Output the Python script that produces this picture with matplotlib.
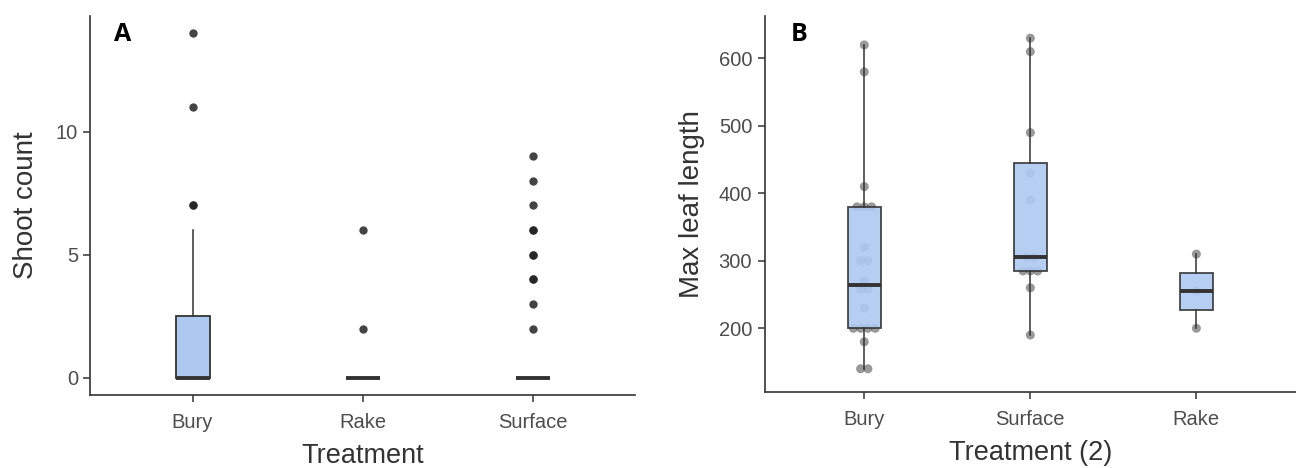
import numpy as np
import matplotlib
matplotlib.use('Agg')
import matplotlib.pyplot as plt

plt.rcParams['font.family'] = ['Liberation Sans', 'DejaVu Sans']

# panel A: shoot counts per treatment
cats_a = ['Bury', 'Rake', 'Surface']
bury_a = [0] * 13 + [1, 1, 2, 2, 2, 4, 6, 7, 7, 11, 14]
rake_a = [0] * 20 + [2, 6]
surface_a = [0] * 36 + [2, 3, 4, 4, 5, 5, 6, 6, 7, 8, 9]

# panel B: max leaf length per treatment
cats_b = ['Bury', 'Surface', 'Rake']
bury_b = [140, 140, 180, 200, 200, 200, 200, 230, 258, 258, 270, 300, 300,
          320, 380, 380, 380, 410, 580, 620]
surface_b = [190, 260, 285, 285, 285, 305, 305, 390, 430, 490, 610, 630]
rake_b = [200, 255, 310]

box_fill = '#AEC9F0'
dark = '#333333'
tick_col = '#4D4D4D'

fig = plt.figure(figsize=(12.96, 4.68), dpi=100)


def style_axes(ax):
    for s in ['top', 'right']:
        ax.spines[s].set_visible(False)
    for s in ['left', 'bottom']:
        ax.spines[s].set_color(dark)
        ax.spines[s].set_linewidth(1.2)
    ax.tick_params(length=5, width=1.1, color=dark, labelcolor=tick_col,
                   labelsize=14.5)
    ax.tick_params(axis='x', pad=8)
    ax.tick_params(axis='y', pad=4)


# ---- panel A
ax1 = fig.add_axes([0.0698, 0.156, 0.42, 0.81])
ax1.boxplot([bury_a, rake_a, surface_a], positions=[1, 2, 3], widths=0.2,
            patch_artist=True, showcaps=False, whis=1.5,
            boxprops=dict(facecolor=box_fill, edgecolor=dark, linewidth=1.3),
            whiskerprops=dict(color=dark, linewidth=1.1),
            medianprops=dict(color=dark, linewidth=2.8, solid_capstyle='butt'),
            flierprops=dict(marker='o', markersize=6, markerfacecolor='#222222',
                            markeredgecolor='none', alpha=0.85))
ax1.set_xlim(0.4, 3.6)
ax1.set_ylim(-0.7, 14.7)
ax1.set_xticks([1, 2, 3])
ax1.set_xticklabels(cats_a)
ax1.set_yticks([0, 5, 10])
style_axes(ax1)
ax1.set_xlabel('Treatment', fontsize=19.5, color=dark, labelpad=8)
ax1.set_ylabel('Shoot count', fontsize=20, color=dark, labelpad=12)
ax1.text(0.06, 0.95, 'A', transform=ax1.transAxes, fontsize=18,
         fontweight='bold', family='Open Sans', ha='center', va='center')

# ---- panel B
ax2 = fig.add_axes([0.59, 0.163, 0.41, 0.803])
groups_b = [bury_b, surface_b, rake_b]
step = 0.044
for i, vals in enumerate(groups_b):
    vals = np.array(vals)
    xs = np.zeros(len(vals), dtype=float)
    for v in np.unique(vals):
        idx = np.where(vals == v)[0]
        n = len(idx)
        xs[idx] = (np.arange(n) - (n - 1) / 2) * step
    ax2.scatter(i + 1 + xs, vals, s=42, color='#555555', alpha=0.6,
                edgecolors='none', zorder=1)
bp = ax2.boxplot(groups_b, positions=[1, 2, 3], widths=0.2,
                 patch_artist=True, showcaps=False, showfliers=False,
                 boxprops=dict(facecolor=box_fill, edgecolor=dark, linewidth=1.3),
                 whiskerprops=dict(color=dark, linewidth=1.1),
                 medianprops=dict(color=dark, linewidth=2.8, solid_capstyle='butt'),
                 zorder=2)
for b in bp['boxes']:
    b.set_alpha(0.9)
    b.set_edgecolor(dark)
ax2.set_xlim(0.4, 3.6)
ax2.set_ylim(106, 663)
ax2.set_xticks([1, 2, 3])
ax2.set_xticklabels(cats_b)
ax2.set_yticks([200, 300, 400, 500, 600])
style_axes(ax2)
ax2.set_xlabel('Treatment (2)', fontsize=19.5, color=dark, labelpad=8)
ax2.set_ylabel('Max leaf length', fontsize=20, color=dark, labelpad=10)
ax2.text(0.065, 0.95, 'B', transform=ax2.transAxes, fontsize=18,
         fontweight='bold', family='Open Sans', ha='center', va='center')

fig.savefig('out.png', dpi=100)
